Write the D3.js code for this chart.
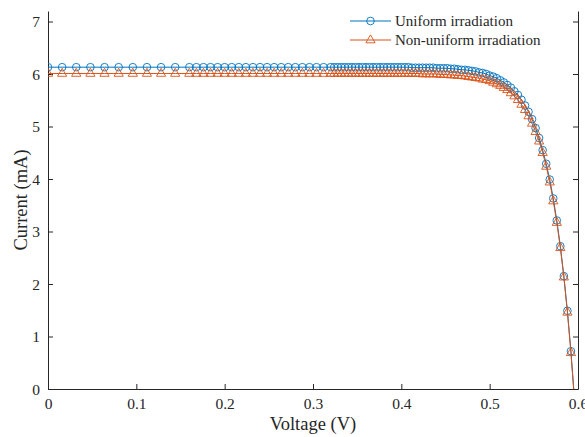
<!DOCTYPE html>
<html>
<head>
<meta charset="utf-8">
<script src="https://cdn.jsdelivr.net/npm/d3@7"></script>
<style>
  body { margin: 0; background: #fff; }
  svg { display: block; }
  text { font-family: "Liberation Serif", "Times New Roman", serif; fill: #262626; }
</style>
</head>
<body>
<svg id="chart" width="585" height="437"></svg>
<script>
// ---- data ----
const voltage = [
  0, 0.016, 0.032, 0.048, 0.064, 0.08, 0.096, 0.112, 0.128, 0.144,
  0.16, 0.168, 0.176, 0.184, 0.192, 0.2, 0.208, 0.216, 0.224, 0.232,
  0.24, 0.248, 0.256, 0.264, 0.272, 0.28, 0.288, 0.296, 0.304, 0.312,
  0.32, 0.324, 0.328, 0.332, 0.336, 0.34, 0.344, 0.348, 0.352, 0.356,
  0.36, 0.364, 0.368, 0.372, 0.376, 0.38, 0.384, 0.388, 0.392, 0.396,
  0.4, 0.404, 0.408, 0.412, 0.416, 0.42, 0.424, 0.428, 0.432, 0.436,
  0.44, 0.444, 0.448, 0.452, 0.456, 0.46, 0.464, 0.468, 0.472, 0.476,
  0.48, 0.484, 0.488, 0.492, 0.496, 0.5, 0.504, 0.508, 0.512, 0.516,
  0.52, 0.524, 0.528, 0.532, 0.536, 0.54, 0.544, 0.548, 0.552, 0.556,
  0.56, 0.564, 0.568, 0.572, 0.576, 0.58, 0.584, 0.588, 0.592, 0.596
];
const uniformCurrent = [
  6.13, 6.13, 6.13, 6.13, 6.13, 6.13, 6.13, 6.13, 6.13, 6.13,
  6.13, 6.13, 6.13, 6.13, 6.13, 6.13, 6.13, 6.13, 6.13, 6.13,
  6.13, 6.13, 6.13, 6.13, 6.13, 6.13, 6.13, 6.13, 6.13, 6.13,
  6.13, 6.13, 6.13, 6.13, 6.13, 6.13, 6.13, 6.13, 6.13, 6.13,
  6.13, 6.13, 6.13, 6.13, 6.13, 6.13, 6.13, 6.13, 6.13, 6.13,
  6.13, 6.13, 6.13, 6.12, 6.12, 6.12, 6.12, 6.12, 6.12, 6.12,
  6.11, 6.11, 6.11, 6.11, 6.10, 6.10, 6.09, 6.08, 6.08, 6.07,
  6.06, 6.05, 6.03, 6.02, 6.00, 5.97, 5.95, 5.92, 5.88, 5.84,
  5.79, 5.74, 5.67, 5.60, 5.51, 5.40, 5.28, 5.14, 4.97, 4.78,
  4.55, 4.29, 3.99, 3.63, 3.21, 2.72, 2.15, 1.49, 0.72, -0.18
];
const nonUniformCurrent = [
  6.01, 6.01, 6.01, 6.01, 6.01, 6.01, 6.01, 6.01, 6.01, 6.01,
  6.01, 6.01, 6.01, 6.01, 6.01, 6.01, 6.01, 6.01, 6.01, 6.01,
  6.01, 6.01, 6.01, 6.01, 6.01, 6.01, 6.01, 6.01, 6.01, 6.01,
  6.01, 6.01, 6.01, 6.01, 6.01, 6.01, 6.01, 6.01, 6.01, 6.01,
  6.01, 6.01, 6.01, 6.01, 6.01, 6.01, 6.01, 6.01, 6.01, 6.01,
  6.01, 6.01, 6.01, 6.01, 6.01, 6.01, 6.00, 6.00, 6.00, 6.00,
  6.00, 5.99, 5.99, 5.99, 5.98, 5.98, 5.97, 5.97, 5.96, 5.95,
  5.94, 5.93, 5.92, 5.90, 5.89, 5.87, 5.84, 5.81, 5.78, 5.74,
  5.70, 5.64, 5.58, 5.51, 5.42, 5.32, 5.20, 5.06, 4.90, 4.72,
  4.50, 4.24, 3.94, 3.58, 3.17, 2.69, 2.13, 1.46, 0.69, -0.21
];
const seriesNames = ["Uniform irradiation", "Non-uniform irradiation"];
const xTicks = [0, 0.1, 0.2, 0.3, 0.4, 0.5, 0.6];
const yTicks = [0, 1, 2, 3, 4, 5, 6, 7];

(function () {
// ---- layout ----
const svg = d3.select("#chart");
const pL = 48, pR = 578, pT = 11, pB = 389;
const x = d3.scaleLinear().domain([0, 0.6]).range([pL, pR]);
const y = d3.scaleLinear().domain([0, 7.2]).range([pB, pT]);
const axisColor = "#262626";
const colors = ["#0072BD", "#D95319"];

svg.append("defs").append("clipPath").attr("id", "plotClip")
  .append("rect").attr("x", pL).attr("y", pT).attr("width", pR - pL).attr("height", pB - pT);

// axes
const tickLen = 5;
const gx = svg.append("g").attr("transform", `translate(0,${pB})`)
  .call(d3.axisBottom(x).tickValues(xTicks).tickSize(-tickLen).tickSizeOuter(0).tickPadding(9)
    .tickFormat(d => d === 0 ? "0" : d3.format(".1f")(d)));
const gy = svg.append("g").attr("transform", `translate(${pL},0)`)
  .call(d3.axisLeft(y).tickValues(yTicks).tickSize(-tickLen).tickSizeOuter(0).tickPadding(8)
    .tickFormat(d3.format("d")));
const gr = svg.append("g").attr("transform", `translate(${pR},0)`)
  .call(d3.axisRight(y).tickValues(yTicks).tickSize(-tickLen).tickSizeOuter(0).tickFormat(""));

[gx, gy, gr].forEach(g => {
  g.select(".domain").attr("stroke", axisColor).attr("stroke-width", 1);
  g.selectAll(".tick line").attr("stroke", axisColor).attr("stroke-width", 1);
  g.selectAll(".tick text").attr("font-size", 15.5).attr("fill", axisColor)
    .style("font-family", '"Liberation Serif", serif');
});
gx.selectAll(".tick text").attr("dy", "0.71em");
gy.selectAll(".tick text").attr("dy", "0.35em");

// axis labels
svg.append("text").attr("x", (pL + pR) / 2).attr("y", 430)
  .attr("text-anchor", "middle").attr("font-size", 18.5).text("Voltage (V)");
svg.append("text").attr("transform", `translate(27,${(pT + pB) / 2}) rotate(-90)`)
  .attr("text-anchor", "middle").attr("font-size", 18.5).text("Current (mA)");

// data
const series = [uniformCurrent, nonUniformCurrent].map(vals =>
  voltage.map((v, j) => ({ v: v, c: vals[j] })));

const plot = svg.append("g").attr("clip-path", "url(#plotClip)");
const line = d3.line().x(d => x(d.v)).y(d => y(d.c));
const triPath = "M0,-5.2L4.6,2.8L-4.6,2.8Z";

series.forEach((pts, i) => {
  const g = plot.append("g");
  g.append("path").datum(pts).attr("d", line)
    .attr("fill", "none").attr("stroke", colors[i]).attr("stroke-width", 1);
  const vis = pts.filter(d => d.c >= 0);
  if (i === 0) {
    g.selectAll("circle").data(vis).join("circle")
      .attr("cx", d => x(d.v)).attr("cy", d => y(d.c)).attr("r", 3.8)
      .attr("fill", "none").attr("stroke", colors[i]).attr("stroke-width", 0.9);
  } else {
    g.selectAll("path.m").data(vis).join("path").attr("class", "m")
      .attr("d", triPath).attr("transform", d => `translate(${x(d.v)},${y(d.c)})`)
      .attr("fill", "none").attr("stroke", colors[i]).attr("stroke-width", 0.9);
  }
});

// legend
const legend = svg.append("g");
seriesNames.forEach((name, i) => {
  const ly = 21 + i * 19;
  legend.append("line").attr("x1", 350).attr("x2", 391).attr("y1", ly).attr("y2", ly)
    .attr("stroke", colors[i]).attr("stroke-width", 1);
  if (i === 0) {
    legend.append("circle").attr("cx", 370.5).attr("cy", ly).attr("r", 3.8)
      .attr("fill", "none").attr("stroke", colors[i]).attr("stroke-width", 0.9);
  } else {
    legend.append("path").attr("d", triPath).attr("transform", `translate(370.5,${ly})`)
      .attr("fill", "none").attr("stroke", colors[i]).attr("stroke-width", 0.9);
  }
  legend.append("text").attr("x", 395).attr("y", ly).attr("dy", "0.33em")
    .attr("font-size", 15).text(name);
});
})();
</script>
</body>
</html>
